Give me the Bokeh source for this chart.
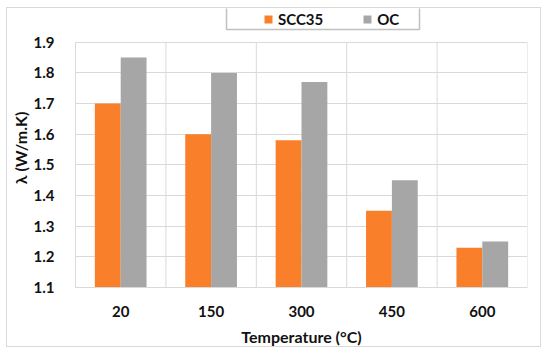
import numpy as np
from bokeh.plotting import figure
from bokeh.models import (FixedTicker, Legend, LegendItem, BoxAnnotation, Range1d)
from bokeh.embed import file_html
from bokeh.resources import INLINE

temperatures = ["20", "150", "300", "450", "600"]
scc35 = [1.70, 1.60, 1.58, 1.35, 1.23]
oc = [1.85, 1.80, 1.77, 1.45, 1.25]
y_ticks = [1.1, 1.2, 1.3, 1.4, 1.5, 1.6, 1.7, 1.8, 1.9]
Y_MIN, Y_MAX = 1.1, 1.9

ORANGE = "#FA7F2A"
GRAY = "#A6A6A6"
GRID = "#D9D9D9"
TEXT = "#111111"
FONT = "Lato"

n = len(temperatures)
idx = np.arange(n)
bar_w = 0.286

# frame extends above 1.9 so the legend box can sit inside it
p = figure(width=535, height=340, output_backend="svg", toolbar_location=None,
           x_range=Range1d(0, n), y_range=Range1d(Y_MIN, 2.01),
           min_border_left=68, min_border_right=15, min_border_top=0, min_border_bottom=58,
           styles={"border": "1px solid #D9D9D9", "margin-left": "6px", "margin-top": "7px"})
p.outline_line_color = None

# vertical grid lines at category boundaries, limited to the value range
bounds = np.arange(n + 1)
p.segment(x0=bounds, x1=bounds, y0=[Y_MIN] * (n + 1), y1=[Y_MAX] * (n + 1),
          line_color=GRID, line_width=1)

r1 = p.vbar(x=idx + 0.5 - bar_w / 2, top=scc35, bottom=Y_MIN, width=bar_w,
            fill_color=ORANGE, line_color=None)
r2 = p.vbar(x=idx + 0.5 + bar_w / 2, top=oc, bottom=Y_MIN, width=bar_w,
            fill_color=GRAY, line_color=None)

# axes
p.xaxis.ticker = FixedTicker(ticks=list(idx + 0.5))
p.xaxis.major_label_overrides = {float(i + 0.5): t for i, t in enumerate(temperatures)}
p.yaxis.ticker = FixedTicker(ticks=y_ticks)
p.yaxis.bounds = (Y_MIN, Y_MAX)
p.xaxis.axis_label = "Temperature (°C)"
p.yaxis.axis_label = "λ (W/m.K)"
for ax in (p.xaxis[0], p.yaxis[0]):
    ax.axis_line_color = GRID
    ax.major_tick_line_color = None
    ax.minor_tick_line_color = None
    ax.major_label_text_font = FONT
    ax.major_label_text_font_style = "bold"
    ax.major_label_text_font_size = "15px"
    ax.major_label_text_color = TEXT
    ax.axis_label_text_font = FONT
    ax.axis_label_text_font_style = "bold"
    ax.axis_label_text_font_size = "16px"
    ax.axis_label_text_color = TEXT
p.yaxis.major_label_standoff = 15
p.yaxis.axis_label_standoff = 1
p.xaxis.major_label_standoff = 12
p.xaxis.axis_label_standoff = 7

# horizontal grid
p.xgrid.grid_line_color = None
p.ygrid.ticker = FixedTicker(ticks=y_ticks)
p.ygrid.grid_line_color = GRID

# legend box
p.add_layout(BoxAnnotation(left=151, right=344, bottom=258, top=300,
                           left_units="screen", right_units="screen",
                           bottom_units="screen", top_units="screen",
                           fill_color="white", fill_alpha=1.0,
                           line_color="#333333", line_width=1.5))

legend = Legend(items=[LegendItem(label="SCC35", renderers=[r1]),
                       LegendItem(label="OC", renderers=[r2])],
                orientation="horizontal", location=(188, 259),
                padding=0, margin=0, spacing=39,
                glyph_width=10, glyph_height=10, label_standoff=5,
                label_text_font=FONT, label_text_font_style="bold",
                label_text_font_size="15px", label_text_color=TEXT,
                border_line_color=None, background_fill_alpha=0)
p.add_layout(legend, "center")

open("out.html", "w").write(file_html(p, INLINE))
